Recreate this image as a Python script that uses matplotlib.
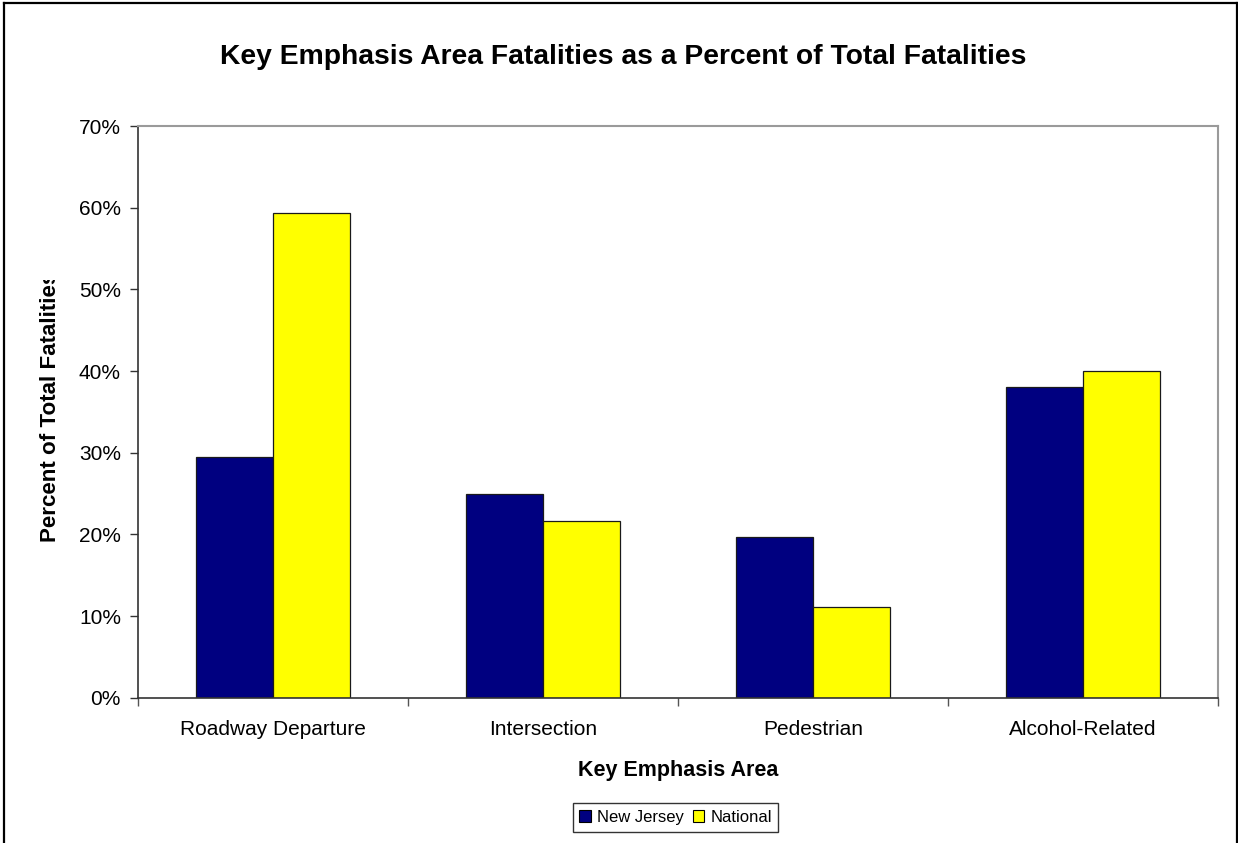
import matplotlib
matplotlib.use("Agg")
import matplotlib.pyplot as plt
from matplotlib.lines import Line2D
from matplotlib.patches import Patch
from matplotlib.transforms import Bbox, TransformedBbox
from matplotlib.ticker import PercentFormatter

plt.rcParams['font.family'] = ['Liberation Sans', 'DejaVu Sans']

categories = ["Roadway Departure", "Intersection", "Pedestrian", "Alcohol-Related"]
new_jersey = [29.5, 24.9, 19.7, 38.1]
national = [59.4, 21.6, 11.1, 40.0]
series_names = ["New Jersey", "National"]
y_ticks = [0, 10, 20, 30, 40, 50, 60, 70]

W, H = 1238, 843
fig = plt.figure(figsize=(W / 100, H / 100), dpi=100)
fig.patch.set_facecolor("white")

ax = fig.add_axes([138.3 / W, 1 - 697.7 / H, (1217.7 - 138.3) / W, (697.7 - 126) / H])

x = list(range(len(categories)))
bw = 0.285
ax.bar([i - bw / 2 for i in x], new_jersey, width=bw, color="#000080",
       edgecolor="#1a1a1a", linewidth=0.9, label=series_names[0])
ax.bar([i + bw / 2 for i in x], national, width=bw, color="#FFFF00",
       edgecolor="#1a1a1a", linewidth=0.9, label=series_names[1])

ax.set_xlim(-0.5, len(categories) - 0.5)
ax.set_ylim(0, 70)
ax.set_yticks(y_ticks)
ax.yaxis.set_major_formatter(PercentFormatter(decimals=0))
ax.tick_params(axis="y", direction="out", length=5.5, width=1, color="#333333",
               labelsize=15, pad=7)

ax.set_xticks(x)
ax.set_xticklabels(categories)
ax.tick_params(axis="x", which="major", length=0, labelsize=15, pad=16)
ax.set_xticks([i - 0.5 for i in range(len(categories) + 1)], minor=True)
ax.tick_params(axis="x", which="minor", direction="out", length=5.5, width=1,
               color="#555555")

for side in ("left", "bottom"):
    ax.spines[side].set_color("#333333")
    ax.spines[side].set_linewidth(1.2)
for side in ("top", "right"):
    ax.spines[side].set_color("#9a9a9a")
    ax.spines[side].set_linewidth(1.5)

ax.set_xlabel("Key Emphasis Area", fontsize=15.5, fontweight="bold", labelpad=15)

fig.text(623 / W, 1 - 57 / H,
         "Key Emphasis Area Fatalities as a Percent of Total Fatalities",
         ha="center", va="center", fontsize=20.3, fontweight="bold")

# rotated y-axis title, cut off at the top as in the original layout
ylab = fig.text(51 / W, 1 - 407 / H, "Percent of Total Fatalities",
                rotation=90, ha="center", va="center",
                fontsize=16.1, fontweight="bold")
ylab.set_clip_on(True)
ylab.set_clip_box(TransformedBbox(Bbox([[0, 0], [1, 1 - 280 / H]]), fig.transFigure))

handles = [Patch(facecolor="#000080", edgecolor="black", linewidth=0.8),
           Patch(facecolor="#FFFF00", edgecolor="black", linewidth=0.8)]
leg = fig.legend(handles, series_names, loc="center",
                 bbox_to_anchor=(675.5 / W, 1 - 817.5 / H), ncol=2,
                 fontsize=12, frameon=True, fancybox=False, shadow=False,
                 handlelength=0.7, handleheight=0.7, handletextpad=0.35,
                 columnspacing=0.55, borderpad=0.4, borderaxespad=0)
leg.get_frame().set_edgecolor("black")
leg.get_frame().set_linewidth(1.0)

# outer chart border
bc = "black"
fig.add_artist(Line2D([3.5 / W, 3.5 / W], [0, 1 - 3 / H], color=bc, lw=1.6,
                      transform=fig.transFigure))
fig.add_artist(Line2D([3.5 / W, 1236.5 / W], [1 - 3 / H, 1 - 3 / H], color=bc, lw=1.6,
                      transform=fig.transFigure))
fig.add_artist(Line2D([1236.5 / W, 1236.5 / W], [0, 1 - 3 / H], color=bc, lw=1.6,
                      transform=fig.transFigure))

fig.savefig("out.png", dpi=100, facecolor="white")
